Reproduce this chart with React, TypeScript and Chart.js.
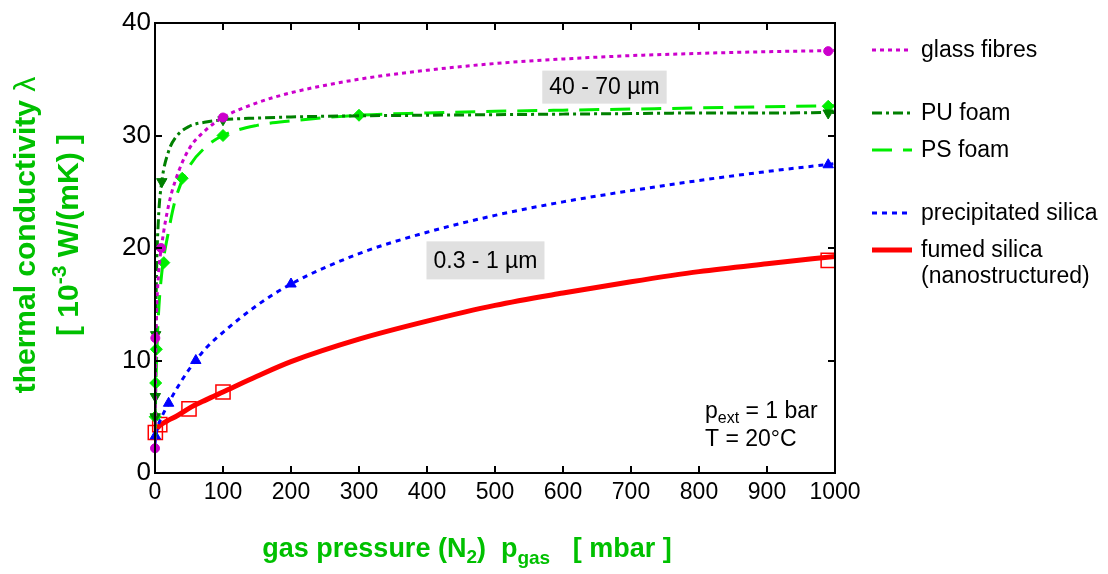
import React, { useEffect, useRef } from 'react';
import { Chart, registerables } from 'chart.js';

Chart.register(...registerables);

const FONT = '"Liberation Sans", Arial, Helvetica, sans-serif';

// Curve pressures (mbar) and conductivities (10^-3 W/(mK))
const curvePressure = [0, 1, 2, 5, 10, 20, 30, 50, 75, 100, 150, 200, 300, 400, 500, 600, 700, 800, 900, 1000];
const glassCurve = [2.2, 10, 13.5, 17.5, 20.3, 23.8, 26, 28.8, 30.5, 31.6, 32.9, 33.8, 35, 35.8, 36.4, 36.8, 37.1, 37.3, 37.45, 37.55];
const puCurve = [3, 12, 17, 22.5, 25.9, 28.6, 29.8, 30.8, 31.2, 31.4, 31.55, 31.65, 31.75, 31.8, 31.85, 31.9, 31.95, 32, 32, 32.05];
const psCurve = [3, 7, 9.5, 14, 17.8, 21.5, 24.3, 27.2, 29, 30, 30.9, 31.3, 31.8, 32.0, 32.15, 32.25, 32.35, 32.45, 32.55, 32.65];
const precipCurve = [2.6, 3.2, 3.6, 4.3, 5.0, 6.2, 7.3, 9.2, 11.1, 12.5, 14.9, 16.8, 19.5, 21.4, 22.9, 24.1, 25.1, 26.0, 26.8, 27.5];
const fumedCurve = [3.7, 3.8, 3.9, 4.1, 4.35, 4.7, 5.0, 5.75, 6.5, 7.2, 8.6, 9.9, 11.9, 13.5, 14.9, 16.0, 17.0, 17.9, 18.6, 19.25];

// Measured points (markers)
const glassPtsX = [0, 0.5, 9, 100, 990];
const glassPtsY = [2.2, 12, 20, 31.6, 37.5];
const puPtsX = [0.3, 0.5, 1, 10, 100, 990];
const puPtsY = [5, 6.8, 12.3, 25.9, 31.4, 32.0];
const psPtsX = [0.3, 1, 2, 13, 40, 100, 300, 990];
const psPtsY = [5, 8, 11, 18.7, 26.2, 30, 31.8, 32.6];
const precipPtsX = [0.5, 20, 60, 200, 990];
const precipPtsY = [3.3, 6.2, 10, 16.8, 27.4];
const fumedPtsX = [0.5, 7, 50, 100, 990];
const fumedPtsY = [3.6, 4.3, 5.7, 7.2, 18.9];

const seriesNames = ['glass fibres', 'PU foam', 'PS foam', 'precipitated silica', 'fumed silica'];
const xTickValues = [0, 100, 200, 300, 400, 500, 600, 700, 800, 900, 1000];
const yTickValues = [0, 10, 20, 30, 40];

const bandLabels = ['40 - 70 µm', '0.3 - 1 µm'];
const bandLabelX = [661, 486];
const bandLabelY = [34.3, 18.9];

const toXY = (xs: number[], ys: number[]) => xs.map((x, i) => ({ x, y: ys[i] }));

const styles = [
  { color: '#cc00cc', dash: [4, 4], width: 3, point: 'circle', radius: 4.5, rot: 0, fill: true },
  { color: '#008000', dash: [10, 4, 3, 4], width: 3, point: 'triangle', radius: 6, rot: 180, fill: true },
  { color: '#00ee00', dash: [20, 11], width: 3, point: 'rectRot', radius: 6, rot: 0, fill: true },
  { color: '#0000ff', dash: [5, 5], width: 3, point: 'triangle', radius: 6, rot: 0, fill: true },
  { color: '#ff0000', dash: [], width: 5, point: 'rect', radius: 10, rot: 0, fill: false },
];

function drawRuns(ctx: CanvasRenderingContext2D, runs: any[], x: number, y: number, align: 'left' | 'center') {
  let total = 0;
  for (const r of runs) {
    ctx.font = `${r.bold ? 'bold ' : ''}${r.size}px ${FONT}`;
    total += ctx.measureText(r.text).width;
  }
  let cx = align === 'center' ? x - total / 2 : x;
  ctx.textAlign = 'left';
  ctx.textBaseline = 'alphabetic';
  for (const r of runs) {
    ctx.font = `${r.bold ? 'bold ' : ''}${r.size}px ${FONT}`;
    ctx.fillText(r.text, cx, y + (r.dy || 0));
    cx += ctx.measureText(r.text).width;
  }
}

const decorPlugin = {
  id: 'decor',
  afterDatasetsDraw(chart: any) {
    const { ctx, scales } = chart;
    const xs = scales.x;
    const ys = scales.y;
    ctx.save();
    ctx.setLineDash([]);
    for (let i = 0; i < bandLabels.length; i++) {
      const cx = xs.getPixelForValue(bandLabelX[i]);
      const cy = ys.getPixelForValue(bandLabelY[i]);
      ctx.font = `23px ${FONT}`;
      const w = ctx.measureText(bandLabels[i]).width + 14;
      const h = i === 0 ? 33 : 38;
      ctx.fillStyle = '#e0e0e0';
      ctx.fillRect(cx - w / 2, cy - h / 2, w, h);
      ctx.fillStyle = '#000';
      ctx.textAlign = 'center';
      ctx.textBaseline = 'middle';
      ctx.fillText(bandLabels[i], cx, cy + 1);
    }
    ctx.restore();
  },
  afterDraw(chart: any) {
    const { ctx, chartArea: a, scales } = chart;
    const xs = scales.x;
    const ys = scales.y;
    ctx.save();
    ctx.setLineDash([]);
    ctx.strokeStyle = '#000';
    ctx.lineWidth = 2;
    ctx.strokeRect(a.left, a.top, a.right - a.left, a.bottom - a.top);
    const tl = 7;
    ctx.beginPath();
    for (const v of xTickValues.slice(1, -1)) {
      const px = Math.round(xs.getPixelForValue(v));
      ctx.moveTo(px, a.bottom);
      ctx.lineTo(px, a.bottom - tl);
      ctx.moveTo(px, a.top);
      ctx.lineTo(px, a.top + tl);
    }
    for (const v of yTickValues.slice(1, -1)) {
      const py = Math.round(ys.getPixelForValue(v));
      ctx.moveTo(a.left, py);
      ctx.lineTo(a.left + tl, py);
      ctx.moveTo(a.right, py);
      ctx.lineTo(a.right - tl, py);
    }
    ctx.stroke();

    // legend
    const legendY = [50, 113, 150, 213, 250];
    for (let i = 0; i < seriesNames.length; i++) {
      const s = styles[i];
      ctx.strokeStyle = s.color;
      ctx.lineWidth = s.width;
      ctx.setLineDash(s.dash);
      ctx.beginPath();
      ctx.moveTo(872, legendY[i]);
      ctx.lineTo(912, legendY[i]);
      ctx.stroke();
      ctx.setLineDash([]);
      ctx.fillStyle = '#000';
      ctx.font = `23px ${FONT}`;
      ctx.textAlign = 'left';
      ctx.textBaseline = 'middle';
      ctx.fillText(seriesNames[i], 921, legendY[i] + 1);
    }
    ctx.fillText('(nanostructured)', 921, 277);

    // conditions
    ctx.fillStyle = '#000';
    drawRuns(ctx, [
      { text: 'p', size: 23 },
      { text: 'ext', size: 16, dy: 5 },
      { text: ' = 1 bar', size: 23 },
    ], 705, 418, 'left');
    drawRuns(ctx, [{ text: 'T = 20°C', size: 23 }], 705, 446, 'left');

    // axis titles
    const green = '#00c000';
    ctx.fillStyle = green;
    drawRuns(ctx, [
      { text: 'gas pressure (N', size: 27, bold: true },
      { text: '2', size: 19, bold: true, dy: 6 },
      { text: ')  p', size: 27, bold: true },
      { text: 'gas', size: 19, bold: true, dy: 7 },
      { text: '   [ mbar ]', size: 27, bold: true },
    ], 467, 557, 'center');

    ctx.translate(0, 235);
    ctx.rotate(-Math.PI / 2);
    drawRuns(ctx, [
      { text: 'thermal conductivity ', size: 30, bold: true },
      { text: 'λ', size: 30 },
    ], 0, 35, 'center');
    drawRuns(ctx, [
      { text: '[ 10', size: 30, bold: true },
      { text: '-3', size: 21, bold: true, dy: -12 },
      { text: ' W/(mK) ]', size: 30, bold: true },
    ], 0, 78, 'center');
    ctx.restore();
  },
};

export default function App() {
  const ref = useRef<HTMLCanvasElement>(null);
  useEffect(() => {
    if (!ref.current) return;
    const curves = [glassCurve, puCurve, psCurve, precipCurve, fumedCurve];
    const ptsX = [glassPtsX, puPtsX, psPtsX, precipPtsX, fumedPtsX];
    const ptsY = [glassPtsY, puPtsY, psPtsY, precipPtsY, fumedPtsY];
    const datasets: any[] = [];
    for (let i = 0; i < 5; i++) {
      const s = styles[i];
      datasets.push({
        label: seriesNames[i],
        data: toXY(curvePressure, curves[i]),
        showLine: true,
        borderColor: s.color,
        borderWidth: s.width,
        borderDash: s.dash,
        pointRadius: 0,
        cubicInterpolationMode: 'monotone',
        fill: false,
      });
      datasets.push({
        label: seriesNames[i] + ' data',
        data: toXY(ptsX[i], ptsY[i]),
        showLine: false,
        pointStyle: s.point,
        pointRadius: s.radius,
        pointRotation: s.rot,
        pointBorderColor: s.color,
        pointBackgroundColor: s.fill ? s.color : 'rgba(0,0,0,0)',
        pointBorderWidth: s.fill ? 1 : 1.5,
        clip: false,
      });
    }
    const chart = new Chart(ref.current, {
      type: 'scatter',
      data: { datasets },
      options: {
        animation: false,
        responsive: false,
        devicePixelRatio: 1,
        layout: { padding: { left: 0, top: 23, right: 273, bottom: 0 } },
        plugins: { legend: { display: false }, tooltip: { enabled: false } },
        scales: {
          x: {
            type: 'linear',
            min: 0,
            max: 1000,
            afterBuildTicks: (s: any) => { s.ticks = xTickValues.map((v) => ({ value: v })); },
            afterFit: (s: any) => { s.height = 101; },
            grid: { display: false },
            border: { display: false },
            ticks: {
              color: '#000',
              font: { size: 23, family: FONT },
              padding: -2,
              maxRotation: 0,
              callback: (v: any) => String(v),
            },
          },
          y: {
            type: 'linear',
            min: 0,
            max: 40,
            afterBuildTicks: (s: any) => { s.ticks = yTickValues.map((v) => ({ value: v })); },
            afterFit: (s: any) => { s.width = 155; },
            grid: { display: false },
            border: { display: false },
            ticks: {
              color: '#000',
              font: { size: 26, family: FONT },
              padding: -4,
              callback: (v: any) => String(v),
            },
          },
        },
      } as any,
      plugins: [decorPlugin],
    });
    return () => chart.destroy();
  }, []);
  return (
    <div style={{ position: 'absolute', left: 0, top: 0, width: 1108, height: 574, background: '#fff' }}>
      <canvas ref={ref} width={1108} height={574} />
    </div>
  );
}
